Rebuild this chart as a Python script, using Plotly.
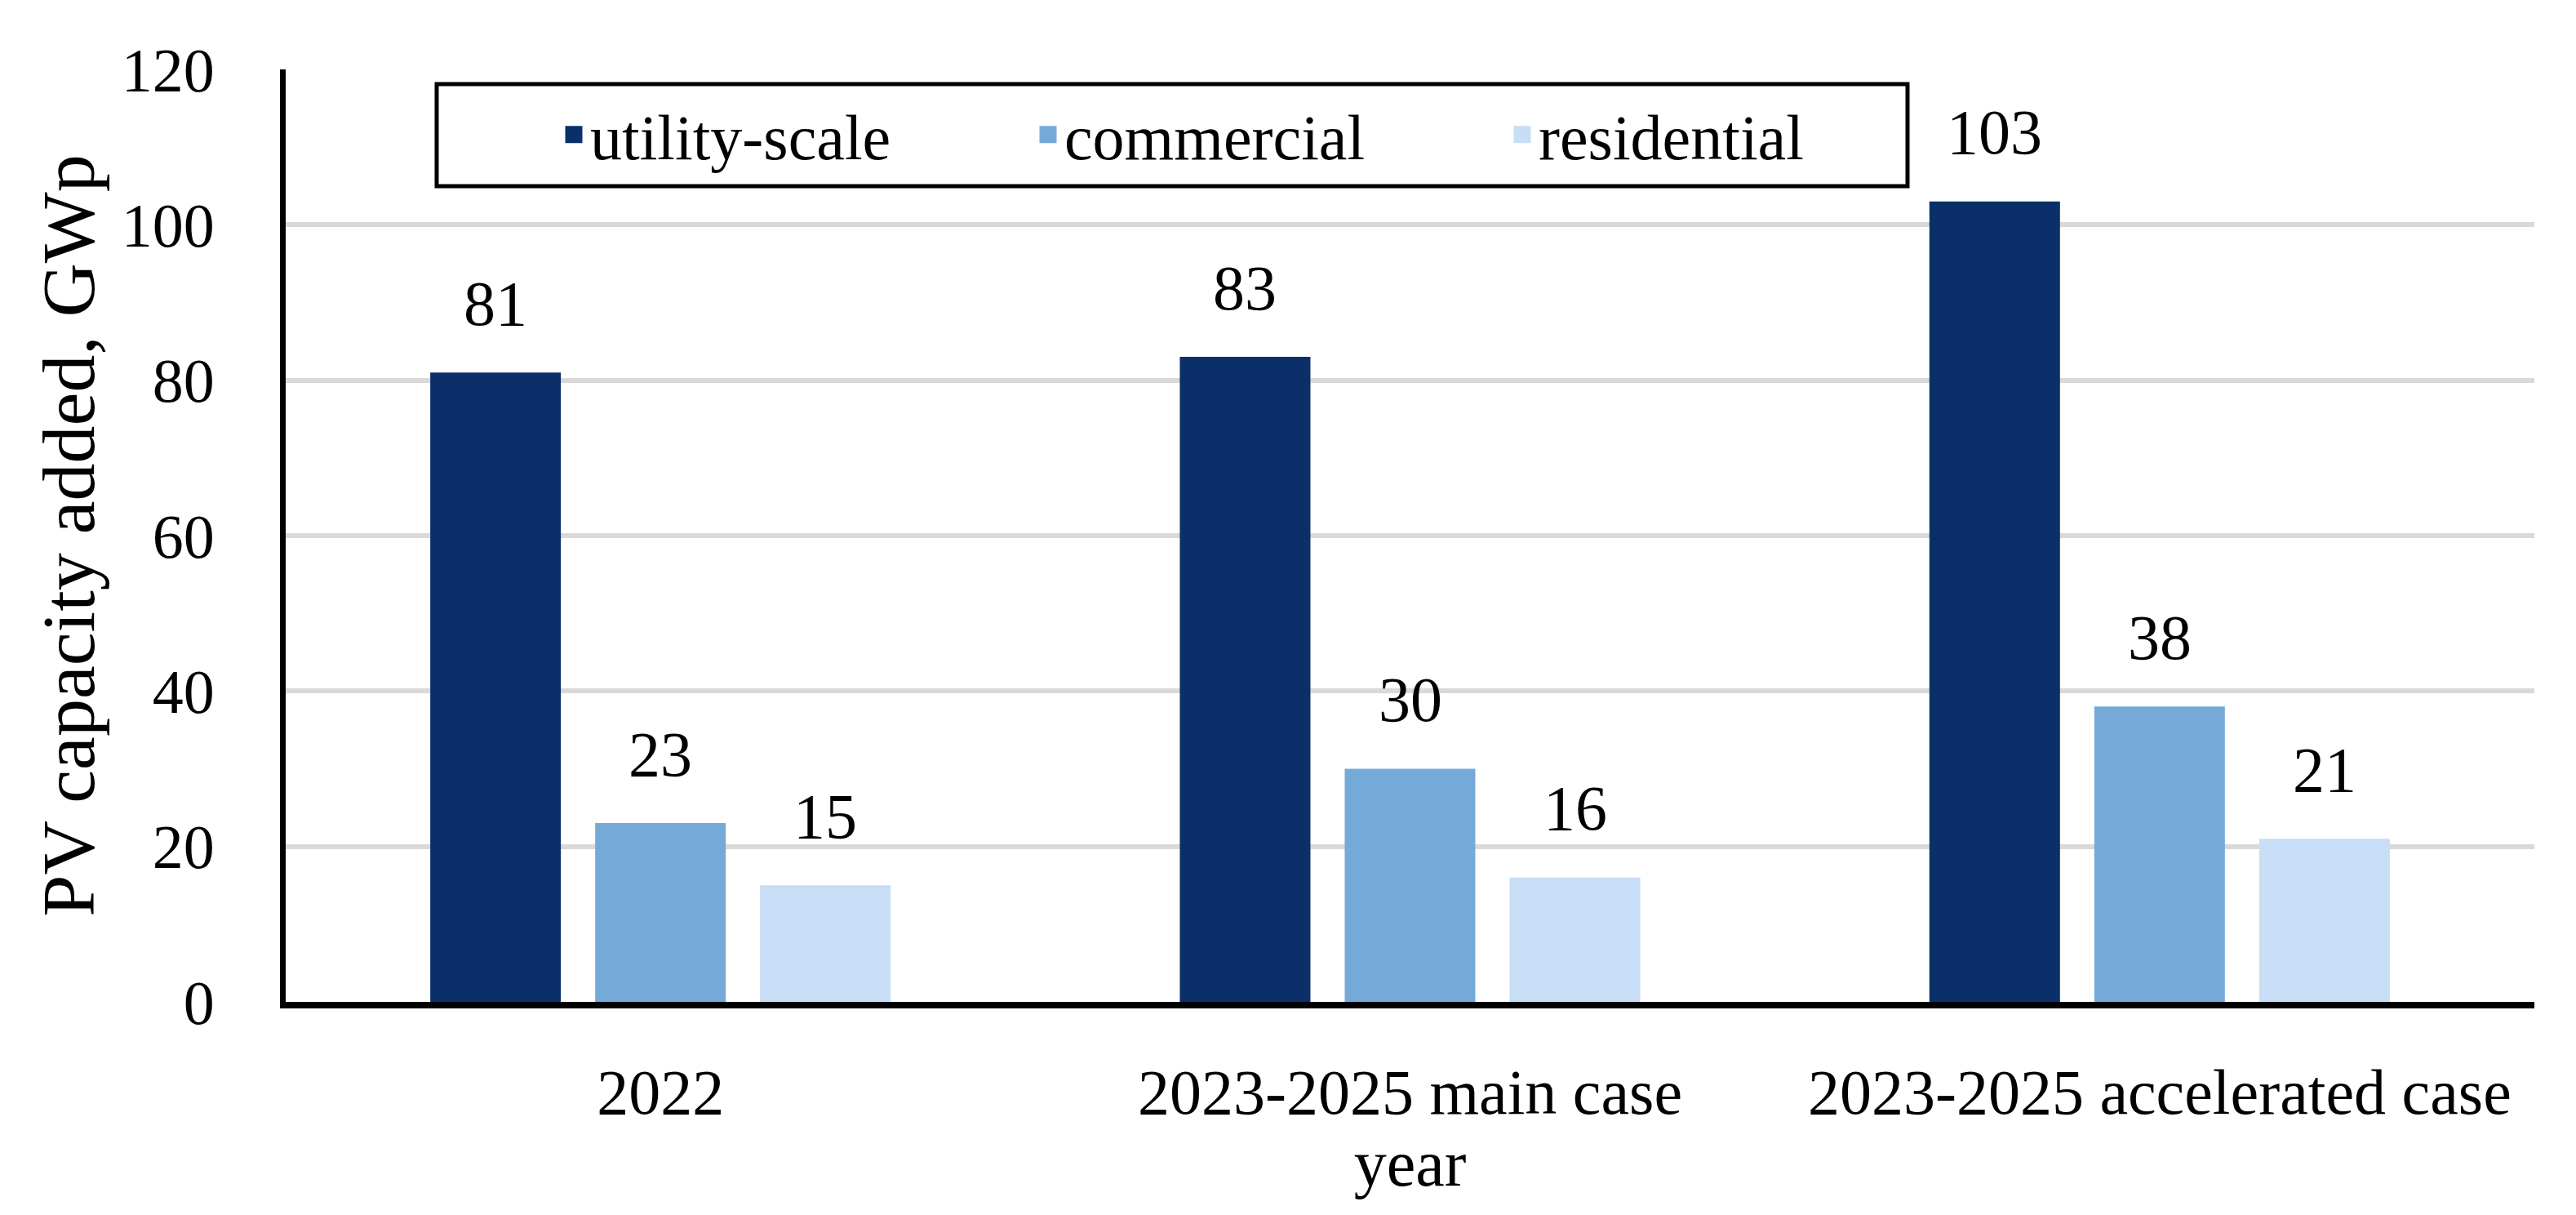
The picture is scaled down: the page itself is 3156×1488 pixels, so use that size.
import plotly.graph_objects as go

categories = ["2022", "2023-2025 main case", "2023-2025 accelerated case"]
series_names = ["utility-scale", "commercial", "residential"]
utility = [81, 83, 103]
commercial = [23, 30, 38]
residential = [15, 16, 21]
series_values = [utility, commercial, residential]
colors = ["#0B3069", "#75AAD8", "#C8DDF6"]
y_ticks = [0, 20, 40, 60, 80, 100, 120]

FONT = "Liberation Serif"
W, H = 3156, 1488
ML, MR, MT, MB = 342, 59, 77, 269
BARGAP = 0.34
GROUPGAP = 0.208

fig = go.Figure()
for name, vals, col in zip(series_names, series_values, colors):
    fig.add_trace(go.Bar(name=name, x=categories, y=vals, showlegend=False,
                         marker=dict(color=col, line=dict(width=0))))
    # legend entry with a larger square swatch
    fig.add_trace(go.Scatter(name=name, x=[None], y=[None], mode="markers", showlegend=True,
                             marker=dict(symbol="square", size=16, color=col,
                                         line=dict(color=col, width=5))))

# data labels above bars
slot = (1 - BARGAP) / len(series_names)
for si, vals in enumerate(series_values):
    off = (si - (len(series_names) - 1) / 2) * slot
    for ci, v in enumerate(vals):
        fig.add_annotation(x=ci + off, y=v, xref="x", yref="y", text=str(v), showarrow=False,
                           yanchor="middle", yshift=85, font=dict(family=FONT, size=78, color="black"))

pw = W - ML - MR
ph = H - MT - MB
# legend frame
fig.add_shape(type="rect", xref="paper", yref="paper",
              x0=(527 - ML) / pw, x1=(2329 - ML) / pw,
              y0=(H - MB - 220) / ph, y1=(H - MB - 95) / ph,
              line=dict(color="black", width=5), fillcolor="rgba(0,0,0,0)", layer="above")

fig.update_layout(
    width=W, height=H,
    margin=dict(l=ML, r=MR, t=MT, b=MB, autoexpand=False),
    paper_bgcolor="white", plot_bgcolor="white",
    barmode="group", bargap=BARGAP, bargroupgap=GROUPGAP,
    font=dict(family=FONT, size=78, color="black"),
    showlegend=True,
    legend=dict(orientation="h", x=(675 - ML) / pw, xanchor="left",
                y=(H - MB - 157) / ph, yanchor="middle",
                entrywidth=536, entrywidthmode="pixels",
                font=dict(family=FONT, size=78, color="black"),
                bgcolor="rgba(0,0,0,0)", borderwidth=0),
    xaxis=dict(type="category", range=[-0.5, 2.5], automargin=False,
               showline=True, linecolor="black", linewidth=8,
               showgrid=False, ticks="", ticklabelstandoff=35,
               tickfont=dict(family=FONT, size=78, color="black"),
               title=dict(text="year", font=dict(family=FONT, size=80, color="black"), standoff=0)),
    yaxis=dict(range=[0, 120], tickvals=y_ticks, automargin=False,
               showline=True, linecolor="black", linewidth=7,
               showgrid=True, gridcolor="#D9D9D9", gridwidth=6, zeroline=False, ticks="",
               ticklabelstandoff=65,
               tickfont=dict(family=FONT, size=76, color="black"),
               title=dict(text="PV capacity added, GWp", font=dict(family=FONT, size=92, color="black"), standoff=5)),
)

fig.write_html("out.html")
